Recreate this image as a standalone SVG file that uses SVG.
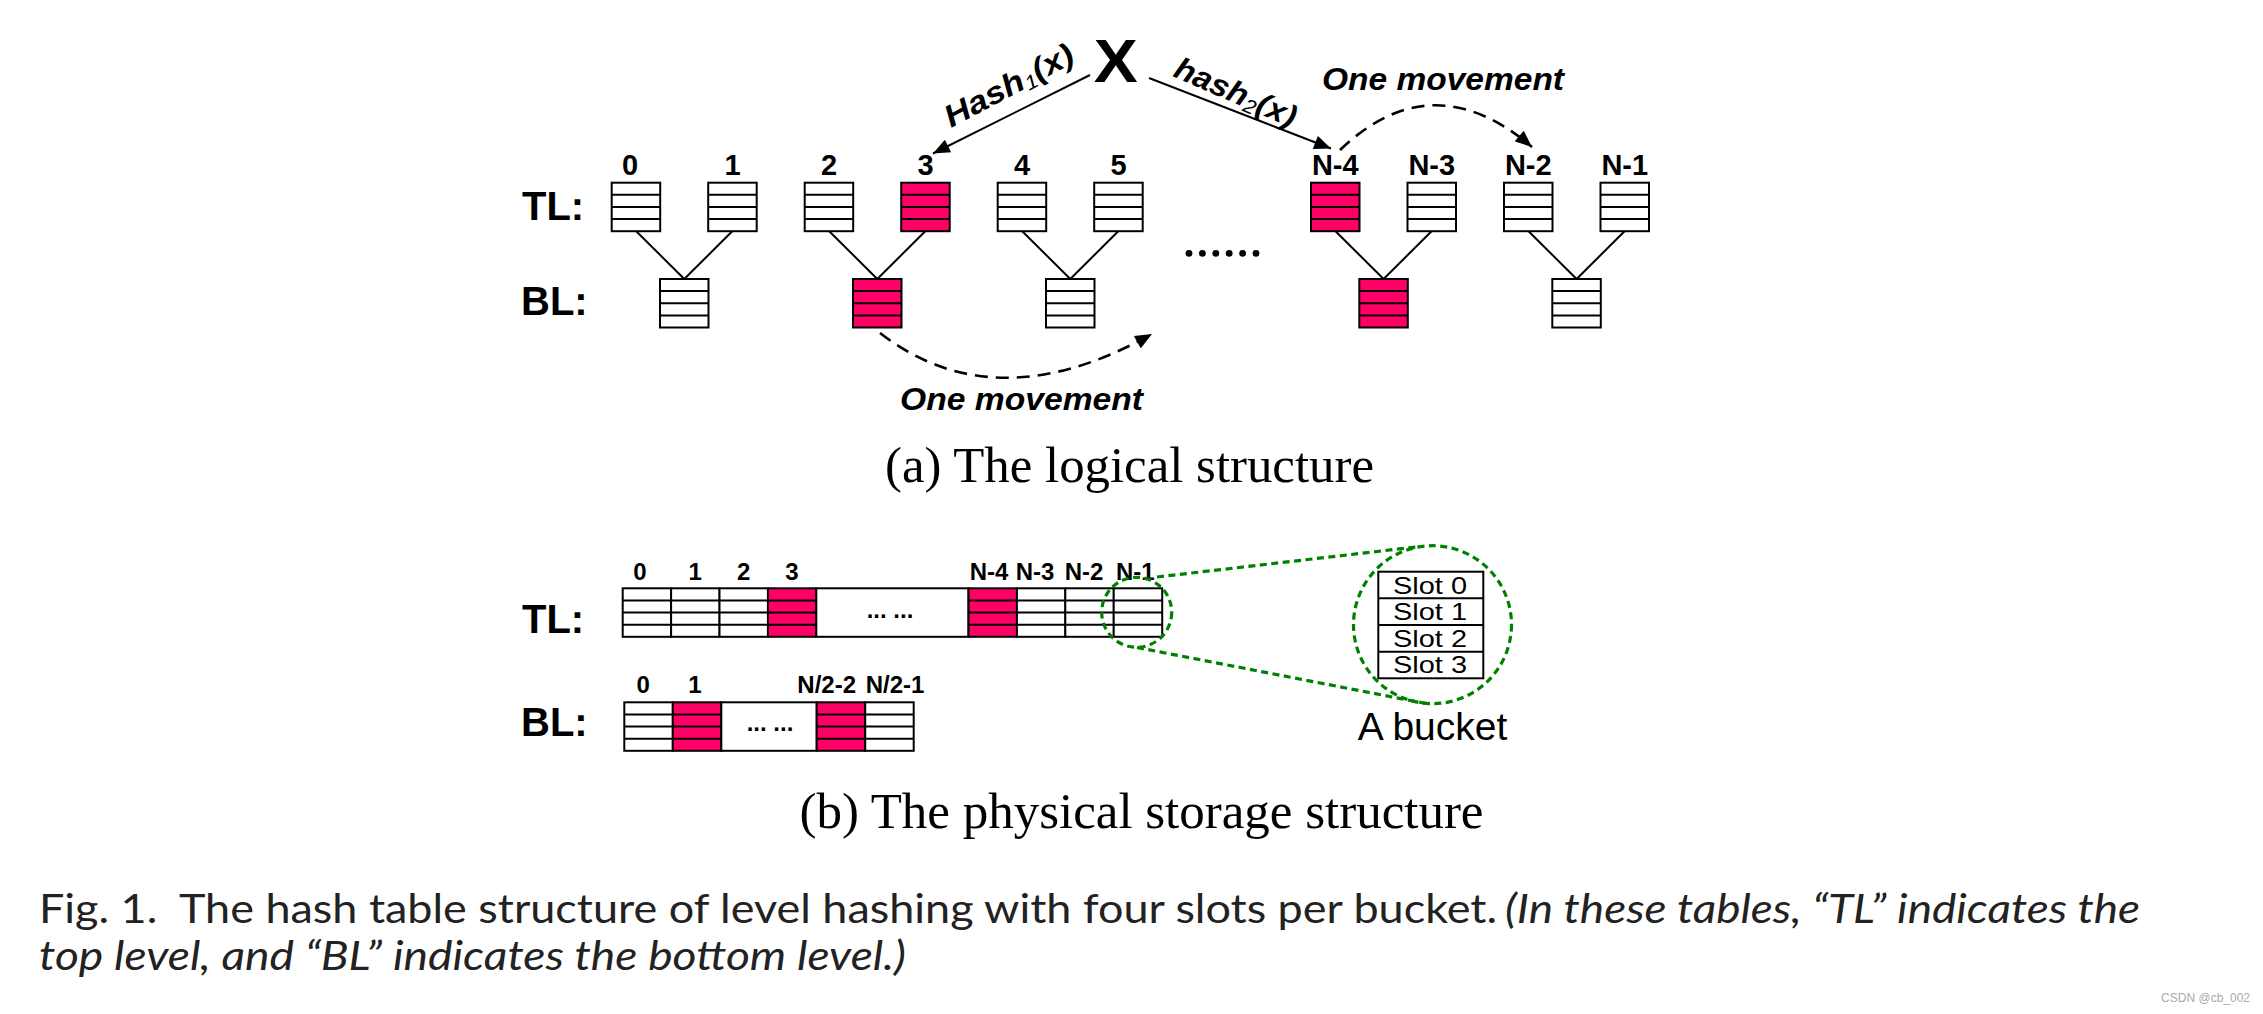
<svg xmlns="http://www.w3.org/2000/svg" width="2263" height="1014" viewBox="0 0 2263 1014">
<style>
.b{fill:#fff;stroke:#000;stroke-width:2}
.p{fill:#ff0066;stroke:#000;stroke-width:2}
.sl{stroke:#000;stroke-width:2}
.lbl{font-family:"Liberation Sans",Arial,sans-serif;font-weight:bold;fill:#000}
.it{font-family:"Liberation Sans",Arial,sans-serif;font-weight:bold;font-style:italic;fill:#000}
.serif{font-family:"Liberation Serif","Times New Roman",serif;fill:#000}
.cap{font-family:Lato,"Open Sans",sans-serif;fill:#222}
.conn{stroke:#000;stroke-width:2;fill:none}
.dash{stroke:#000;stroke-width:2.6;fill:none;stroke-dasharray:13 8}
.green{stroke:#008000;stroke-width:3.2;fill:none;stroke-dasharray:7 4.5}
.slot{font-family:"Liberation Sans",Arial,sans-serif;font-size:24px;fill:#000}
</style>
<defs>
<marker id="ah" viewBox="0 0 12 10" refX="12" refY="5" markerWidth="18" markerHeight="14" markerUnits="userSpaceOnUse" orient="auto">
<path d="M0,0 L12,5 L0,10 z" fill="#000"/>
</marker>
<g id="bk">
<rect x="0" y="0" width="48.5" height="48.5" class="b"/>
<line x1="0" y1="12.1" x2="48.5" y2="12.1" class="sl"/>
<line x1="0" y1="24.25" x2="48.5" y2="24.25" class="sl"/>
<line x1="0" y1="36.4" x2="48.5" y2="36.4" class="sl"/>
</g>
<g id="pk">
<rect x="0" y="0" width="48.5" height="48.5" class="p"/>
<line x1="0" y1="12.1" x2="48.5" y2="12.1" class="sl"/>
<line x1="0" y1="24.25" x2="48.5" y2="24.25" class="sl"/>
<line x1="0" y1="36.4" x2="48.5" y2="36.4" class="sl"/>
</g>
</defs>
<rect width="2263" height="1014" fill="#fff"/>

<!-- (a) logical structure -->
<g id="logical-labels">
<text class="lbl" x="522" y="220" font-size="40">TL:</text>
<text class="lbl" x="521" y="315" font-size="40">BL:</text>
<text class="lbl" x="1115.7" y="81.7" font-size="62" text-anchor="middle" textLength="44" lengthAdjust="spacingAndGlyphs">X</text>
</g>

<g id="connectors">
<line x1="636" y1="231" x2="684.3" y2="279" class="conn"/>
<line x1="732.5" y1="231" x2="684.3" y2="279" class="conn"/>
<line x1="829" y1="231" x2="877.3" y2="279" class="conn"/>
<line x1="925.5" y1="231" x2="877.3" y2="279" class="conn"/>
<line x1="1022" y1="231" x2="1070.3" y2="279" class="conn"/>
<line x1="1118.5" y1="231" x2="1070.3" y2="279" class="conn"/>
<line x1="1335.3" y1="231" x2="1383.6" y2="279" class="conn"/>
<line x1="1431.8" y1="231" x2="1383.6" y2="279" class="conn"/>
<line x1="1528.3" y1="231" x2="1576.6" y2="279" class="conn"/>
<line x1="1624.8" y1="231" x2="1576.6" y2="279" class="conn"/>
<line x1="1090" y1="75" x2="933" y2="153.5" class="conn" marker-end="url(#ah)"/>
<line x1="1149" y1="78" x2="1331" y2="148.5" class="conn" marker-end="url(#ah)"/>
<path d="M1340,150 Q1432,62 1532,147" class="dash" marker-end="url(#ah)"/>
<path d="M880,333 Q995,422 1152,334" class="dash" marker-end="url(#ah)"/>
</g>

<g id="edge-labels">
<text class="it" font-size="31" transform="translate(951,128) rotate(-28)" textLength="142" lengthAdjust="spacingAndGlyphs">Hash<tspan font-size="20" font-weight="normal" dy="4">1</tspan><tspan dy="-4">(x)</tspan></text>
<text class="it" font-size="31" transform="translate(1172,76) rotate(23.5)" textLength="130" lengthAdjust="spacingAndGlyphs">hash<tspan font-size="20" font-weight="normal" dy="4">2</tspan><tspan dy="-4">(x)</tspan></text>
<text class="it" x="1322" y="90" font-size="32" textLength="242" lengthAdjust="spacingAndGlyphs">One movement</text>
<text class="it" x="900" y="410" font-size="31" textLength="243" lengthAdjust="spacingAndGlyphs">One movement</text>
</g>

<g id="tl-0"><use href="#bk" x="611.7" y="182.7"/><text class="lbl" x="630" y="175" font-size="29" text-anchor="middle">0</text></g>
<g id="tl-1"><use href="#bk" x="708.2" y="182.7"/><text class="lbl" x="732.5" y="175" font-size="29" text-anchor="middle">1</text></g>
<g id="tl-2"><use href="#bk" x="804.7" y="182.7"/><text class="lbl" x="829" y="175" font-size="29" text-anchor="middle">2</text></g>
<g id="tl-3"><use href="#pk" x="901.2" y="182.7"/><text class="lbl" x="925.5" y="175" font-size="29" text-anchor="middle">3</text></g>
<g id="tl-4"><use href="#bk" x="997.7" y="182.7"/><text class="lbl" x="1022" y="175" font-size="29" text-anchor="middle">4</text></g>
<g id="tl-5"><use href="#bk" x="1094.2" y="182.7"/><text class="lbl" x="1118.5" y="175" font-size="29" text-anchor="middle">5</text></g>
<g id="tl-n4"><use href="#pk" x="1311" y="182.7"/><text class="lbl" x="1335.3" y="175" font-size="29" text-anchor="middle">N-4</text></g>
<g id="tl-n3"><use href="#bk" x="1407.5" y="182.7"/><text class="lbl" x="1431.8" y="175" font-size="29" text-anchor="middle">N-3</text></g>
<g id="tl-n2"><use href="#bk" x="1504" y="182.7"/><text class="lbl" x="1528.3" y="175" font-size="29" text-anchor="middle">N-2</text></g>
<g id="tl-n1"><use href="#bk" x="1600.5" y="182.7"/><text class="lbl" x="1624.8" y="175" font-size="29" text-anchor="middle">N-1</text></g>

<g id="bl-0"><use href="#bk" x="660" y="279"/></g>
<g id="bl-1"><use href="#pk" x="853" y="279"/></g>
<g id="bl-2"><use href="#bk" x="1046" y="279"/></g>
<g id="bl-n2"><use href="#pk" x="1359.3" y="279"/></g>
<g id="bl-n1"><use href="#bk" x="1552.3" y="279"/></g>

<g id="ellipsis-dots" fill="#000">
<circle cx="1189" cy="253.3" r="3.4"/><circle cx="1202.4" cy="253.3" r="3.4"/><circle cx="1215.8" cy="253.3" r="3.4"/>
<circle cx="1229.2" cy="253.3" r="3.4"/><circle cx="1242.6" cy="253.3" r="3.4"/><circle cx="1256" cy="253.3" r="3.4"/>
</g>

<g id="caption-a"><text class="serif" x="885" y="481.7" font-size="50" textLength="489" lengthAdjust="spacingAndGlyphs">(a) The logical structure</text></g>

<!-- (b) physical storage structure -->
<g id="physical-labels">
<text class="lbl" x="522" y="633" font-size="40">TL:</text>
<text class="lbl" x="521" y="736" font-size="40">BL:</text>
</g>

<g id="phys-tl">
<use href="#bk" x="622.7" y="588.3"/>
<use href="#bk" x="671.1" y="588.3"/>
<use href="#bk" x="719.5" y="588.3"/>
<use href="#pk" x="767.9" y="588.3"/>
<rect x="816.3" y="588.3" width="152.2" height="48.5" class="b"/>
<text class="lbl" x="890" y="618" font-size="24" text-anchor="middle">... ...</text>
<use href="#pk" x="968.5" y="588.3"/>
<use href="#bk" x="1016.9" y="588.3"/>
<use href="#bk" x="1065.3" y="588.3"/>
<use href="#bk" x="1113.7" y="588.3"/>
<g font-size="24" class="lbl" text-anchor="middle">
<text x="640" y="580">0</text><text x="695.3" y="580">1</text><text x="743.7" y="580">2</text><text x="792" y="580">3</text>
<text x="989" y="580">N-4</text><text x="1035" y="580">N-3</text><text x="1084" y="580">N-2</text><text x="1135.3" y="580">N-1</text>
</g>
</g>

<g id="phys-bl">
<use href="#bk" x="624.3" y="702.3"/>
<use href="#pk" x="672.8" y="702.3"/>
<rect x="721.3" y="702.3" width="95.4" height="48.5" class="b"/>
<text class="lbl" x="770" y="731" font-size="24" text-anchor="middle">... ...</text>
<use href="#pk" x="816.7" y="702.3"/>
<use href="#bk" x="865.2" y="702.3"/>
<g font-size="24" class="lbl" text-anchor="middle">
<text x="643.3" y="693.3">0</text><text x="695" y="693.3">1</text><text x="826.7" y="693.3">N/2-2</text><text x="895" y="693.3">N/2-1</text>
</g>
</g>

<g id="zoom-lines">
<circle cx="1136.7" cy="612.3" r="35" class="green"/>
<line x1="1157" y1="577" x2="1420" y2="546.5" class="green"/>
<line x1="1137" y1="647.5" x2="1425" y2="703.3" class="green"/>
<circle cx="1432.5" cy="624.7" r="79" class="green"/>
</g>

<g id="bucket-detail">
<rect x="1378.3" y="571.7" width="105" height="106.6" fill="#fff" stroke="#000" stroke-width="2"/>
<line x1="1378.3" y1="598.3" x2="1483.3" y2="598.3" class="sl"/>
<line x1="1378.3" y1="625" x2="1483.3" y2="625" class="sl"/>
<line x1="1378.3" y1="651.7" x2="1483.3" y2="651.7" class="sl"/>
<text class="slot" x="1430" y="593.5" text-anchor="middle" textLength="74" lengthAdjust="spacingAndGlyphs">Slot 0</text>
<text class="slot" x="1430" y="620" text-anchor="middle" textLength="74" lengthAdjust="spacingAndGlyphs">Slot 1</text>
<text class="slot" x="1430" y="646.7" text-anchor="middle" textLength="74" lengthAdjust="spacingAndGlyphs">Slot 2</text>
<text class="slot" x="1430" y="673.3" text-anchor="middle" textLength="74" lengthAdjust="spacingAndGlyphs">Slot 3</text>
<text x="1432.5" y="740" font-family="Liberation Sans,Arial,sans-serif" font-size="39" text-anchor="middle">A bucket</text>
</g>

<g id="caption-b"><text class="serif" x="799.5" y="828.4" font-size="50" textLength="684" lengthAdjust="spacingAndGlyphs">(b) The physical storage structure</text></g>

<g id="figure-caption">
<text class="cap" x="39" y="923" font-size="40" textLength="1458" lengthAdjust="spacingAndGlyphs" xml:space="preserve">Fig. 1.  The hash table structure of level hashing with four slots per bucket.</text>
<text class="cap" x="1505" y="923" font-size="40" font-style="italic" textLength="635" lengthAdjust="spacingAndGlyphs">(In these tables, “TL” indicates the</text>
<text class="cap" x="39" y="970" font-size="40" font-style="italic" textLength="867" lengthAdjust="spacingAndGlyphs">top level, and “BL” indicates the bottom level.)</text>
</g>
<text x="2250" y="1002" font-family="Liberation Sans,Arial,sans-serif" font-size="12" fill="#aaa" text-anchor="end">CSDN @cb_002</text>
</svg>
